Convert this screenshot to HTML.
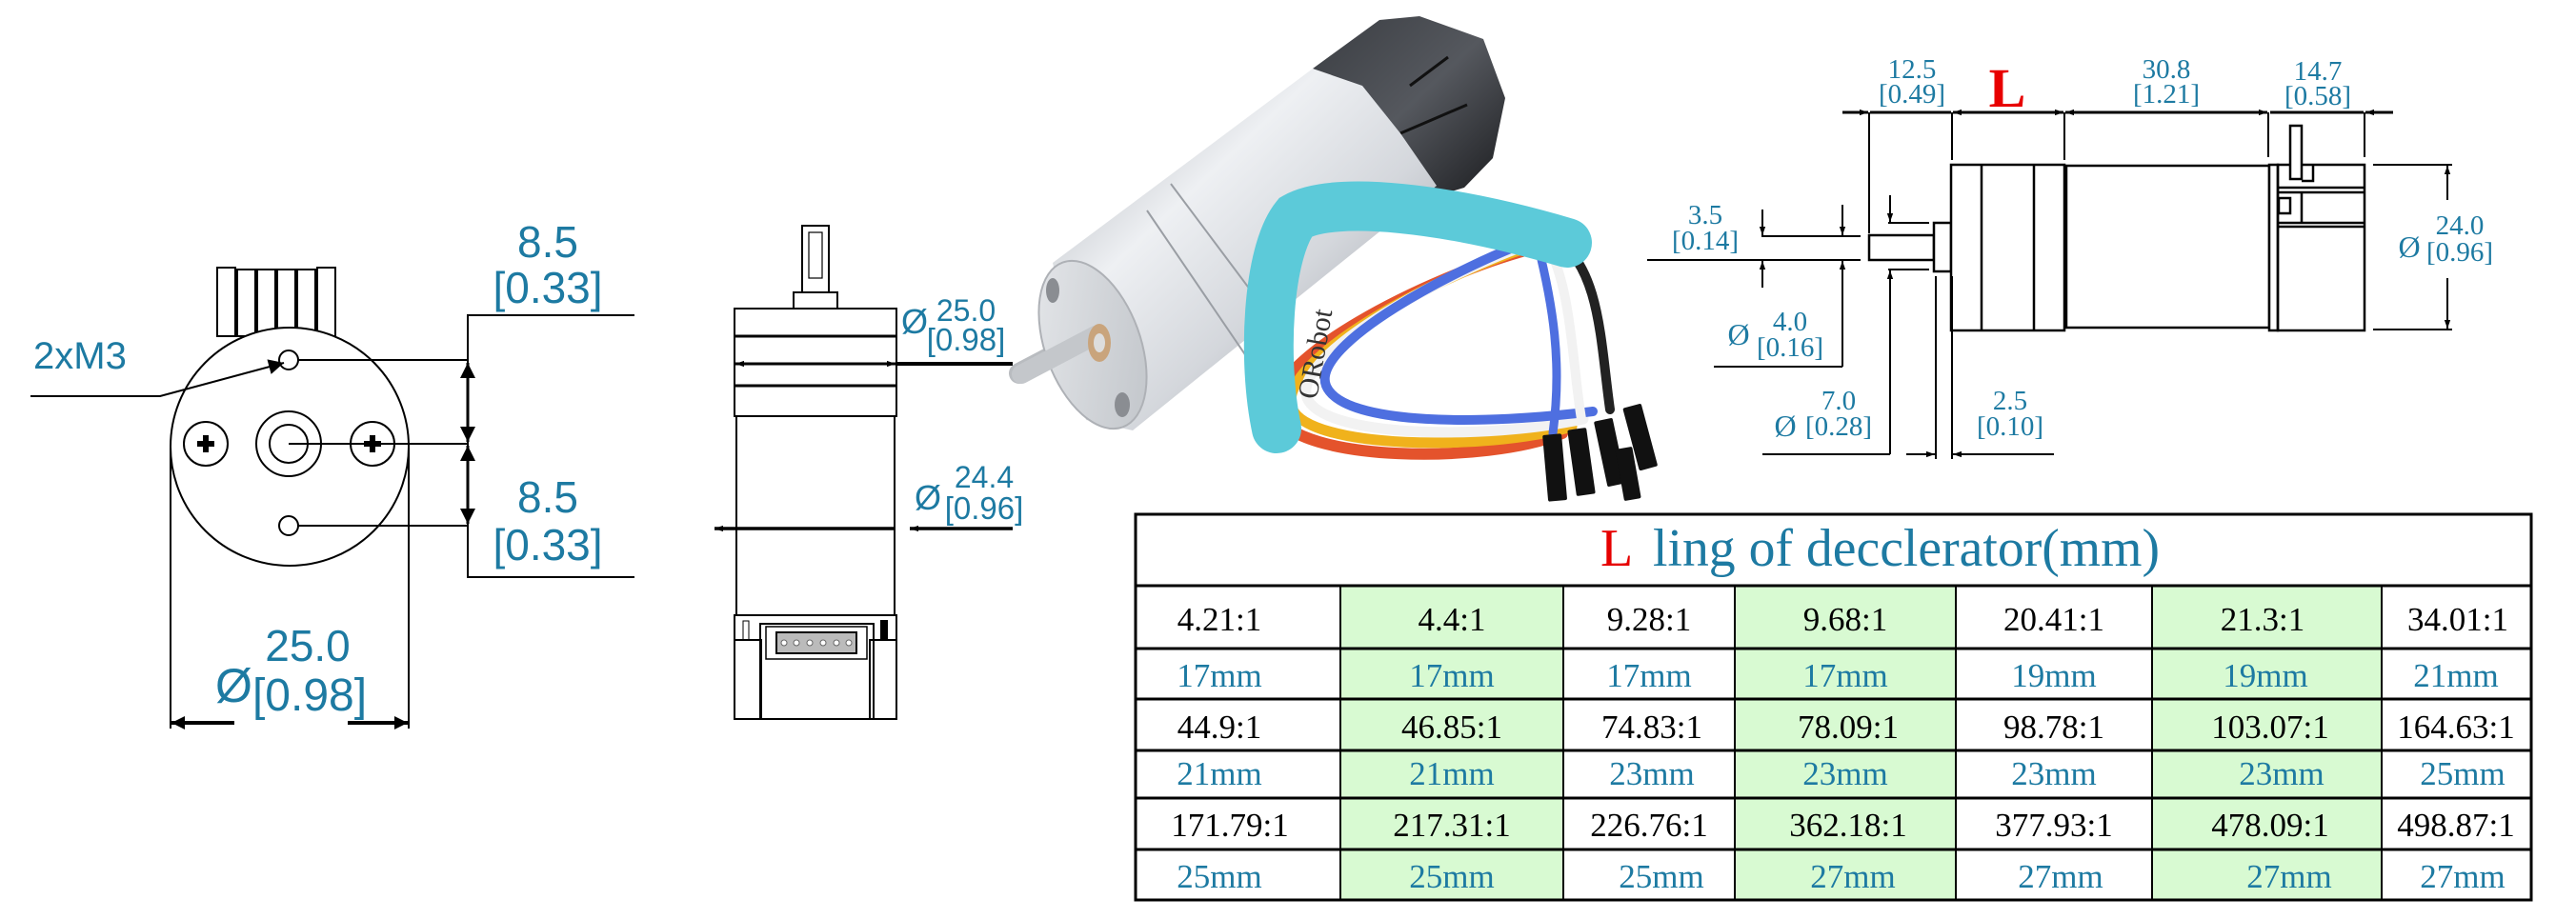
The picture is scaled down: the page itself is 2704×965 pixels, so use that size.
<!DOCTYPE html>
<html><head><meta charset="utf-8"><style>
html,body{margin:0;padding:0;background:#fff;}
svg{display:block;}
.t{fill:#1d7aa2;}
.s{font-family:"Liberation Sans",sans-serif;}
.r{font-family:"Liberation Serif",serif;}
</style></head><body>
<svg width="2704" height="965" viewBox="0 0 2704 965" xmlns="http://www.w3.org/2000/svg">
<defs>
<marker id="a" viewBox="0 0 10 10" refX="10" refY="5" markerWidth="9" markerHeight="9" orient="auto-start-reverse" markerUnits="userSpaceOnUse"><path d="M0,1.5 L10,5 L0,8.5 z" fill="#000"/></marker>
<marker id="b" viewBox="0 0 10 10" refX="10" refY="5" markerWidth="22" markerHeight="16" orient="auto-start-reverse" markerUnits="userSpaceOnUse"><path d="M0,0 L10,5 L0,10 z" fill="#000"/></marker>
<marker id="c" viewBox="0 0 10 10" refX="10" refY="5" markerWidth="28" markerHeight="14" orient="auto-start-reverse" markerUnits="userSpaceOnUse"><path d="M0,0 L10,5 L0,10 z" fill="#000"/></marker>
<linearGradient id="sil" x1="0" y1="0" x2="1" y2="1">
<stop offset="0" stop-color="#9ea3aa"/><stop offset="0.35" stop-color="#eef0f3"/><stop offset="0.6" stop-color="#d4d7dc"/><stop offset="0.85" stop-color="#a5a9b0"/><stop offset="1" stop-color="#c6c9ce"/></linearGradient>
<linearGradient id="face" x1="0" y1="0" x2="1" y2="1">
<stop offset="0" stop-color="#e6e8eb"/><stop offset="1" stop-color="#bfc3c8"/></linearGradient>
<linearGradient id="blk" x1="0" y1="0" x2="1" y2="1">
<stop offset="0" stop-color="#3a3d42"/><stop offset="0.5" stop-color="#55585e"/><stop offset="1" stop-color="#1b1c1f"/></linearGradient>
</defs>

<!-- LEFT END VIEW -->
<g stroke="#000" fill="none" stroke-width="2">
<g fill="#fff" stroke-width="2">
<rect x="228" y="281" width="19" height="72"/><rect x="249" y="283" width="19" height="70"/><rect x="270" y="283" width="19" height="70"/><rect x="291" y="283" width="19" height="70"/><rect x="312" y="283" width="19" height="70"/><rect x="333" y="281" width="19" height="72"/>
</g>
<circle cx="304" cy="469" r="125" fill="#fff"/>
<circle cx="303" cy="378" r="10"/>
<circle cx="303" cy="552" r="10"/>
<circle cx="216" cy="466" r="23"/>
<circle cx="391" cy="466" r="23"/>
<circle cx="303" cy="466" r="34"/>
<circle cx="303" cy="466" r="20"/>
<path d="M207,466 h18 M216,457 v18 M382,466 h18 M391,457 v18" stroke-width="6"/>
<path d="M313,378 H491 M303,466 H491 M313,552 H491"/>
<path d="M666,331 H491 V606 H666"/>
<path d="M491,381 V464" stroke-width="3" marker-start="url(#b)" marker-end="url(#b)"/>
<path d="M491,468 V550" stroke-width="3" marker-start="url(#b)" marker-end="url(#b)"/>
<path d="M32,416 H168 L298,381" marker-end="url(#b)"/>
<path d="M179,470 V765 M429,470 V765"/>
<path d="M246,759 H180" stroke-width="4" marker-end="url(#c)"/>
<path d="M365,759 H428" stroke-width="4" marker-end="url(#c)"/>
</g>
<text x="35" y="387" class="t s" font-size="40">2xM3</text>
<text x="575" y="270" class="t s" font-size="46" text-anchor="middle">8.5</text>
<text x="575" y="318" class="t s" font-size="46" text-anchor="middle">[0.33]</text>
<text x="575" y="538" class="t s" font-size="46" text-anchor="middle">8.5</text>
<text x="575" y="588" class="t s" font-size="46" text-anchor="middle">[0.33]</text>
<text x="226" y="737" class="t s" font-size="50">Ø</text>
<text x="323" y="694" class="t s" font-size="46" text-anchor="middle">25.0</text>
<text x="325" y="746" class="t s" font-size="48" text-anchor="middle">[0.98]</text>

<!-- MIDDLE SIDE VIEW -->
<g stroke="#000" fill="#fff" stroke-width="2">
<rect x="842" y="237" width="28" height="70"/>
<rect x="849" y="244" width="14" height="48" fill="none" stroke-width="1.2"/>
<rect x="833" y="307" width="46" height="17"/>
<rect x="771" y="324" width="170" height="113"/>
<path d="M771,353 H941 M771,405 H941" stroke-width="3"/>
<rect x="773" y="437" width="166" height="209"/>
<rect x="771" y="646" width="170" height="109"/>
<rect x="798" y="655" width="119" height="100" fill="none"/>
<rect x="771" y="672" width="28" height="83" fill="none"/>
<rect x="913" y="672" width="28" height="83" fill="none"/>
<rect x="804" y="658" width="106" height="34" fill="none" stroke-width="1.5"/>
<rect x="815" y="664" width="84" height="22" fill="#bbb"/>
<rect x="925" y="652" width="6" height="20" fill="#000"/>
<rect x="780" y="652" width="6" height="20" fill="none" stroke-width="1"/>
</g>
<g fill="#fff" stroke="#666" stroke-width="1">
<circle cx="823" cy="675" r="3"/><circle cx="836" cy="675" r="3"/><circle cx="850" cy="675" r="3"/><circle cx="864" cy="675" r="3"/><circle cx="878" cy="675" r="3"/><circle cx="891" cy="675" r="3"/>
</g>
<g stroke="#000" fill="none">
<path d="M1063,382 H941" stroke-width="4"/>
<path d="M940,382 H772" stroke-width="3" marker-start="url(#a)" marker-end="url(#a)"/>
<path d="M1063,555 H955" stroke-width="3.5" marker-end="url(#a)"/>
<path d="M939,555 H750" stroke-width="3.5" marker-end="url(#a)"/>
</g>
<text x="946" y="350" class="t s" font-size="36">Ø</text>
<text x="1014" y="337" class="t s" font-size="32" text-anchor="middle">25.0</text>
<text x="1014" y="368" class="t s" font-size="33" text-anchor="middle">[0.98]</text>
<text x="960" y="535" class="t s" font-size="36">Ø</text>
<text x="1033" y="512" class="t s" font-size="32" text-anchor="middle">24.4</text>
<text x="1033" y="545" class="t s" font-size="33" text-anchor="middle">[0.96]</text>

<!-- PHOTO -->
<!-- black encoder cap -->
<path d="M1378,72 L1448,21 L1490,17 L1557,41 L1580,103 L1567,166 L1537,197 L1503,207 L1470,140 Z" fill="url(#blk)"/>
<path d="M1470,140 L1540,110 M1480,90 L1520,60" stroke="#111" stroke-width="3"/>
<!-- silver body -->
<path d="M1105,276 L1378,72 L1430,90 L1470,140 L1508,195 L1189,452 L1140,441 Z" fill="url(#sil)"/>
<path d="M1204,221 L1319,390 M1229,193 L1348,352" stroke="#9a9ea4" stroke-width="2"/>
<!-- shaft -->
<path d="M1070,392 L1150,350" stroke="#b9bcc0" stroke-width="22" stroke-linecap="round"/>
<ellipse cx="1147" cy="362" rx="50" ry="92" transform="rotate(-20 1147 362)" fill="url(#face)" stroke="#aeb1b6" stroke-width="2"/>
<path d="M1072,393 L1150,352" stroke="#c4c7cb" stroke-width="20" stroke-linecap="round"/>
<ellipse cx="1154" cy="360" rx="12" ry="20" fill="#c9a47c"/>
<ellipse cx="1154" cy="360" rx="6" ry="10" fill="#ddd"/>
<ellipse cx="1105" cy="305" rx="7" ry="13" fill="#8a8d92"/>
<ellipse cx="1178" cy="425" rx="8" ry="13" fill="#8a8d92"/>
<!-- wires -->
<g fill="none" stroke-linecap="round">
<path d="M1605,262 C1500,290 1320,380 1340,435 C1360,485 1560,488 1640,455" stroke="#e4532c" stroke-width="12"/>
<path d="M1610,258 C1510,288 1340,378 1356,428 C1372,472 1560,474 1650,448" stroke="#f0b21c" stroke-width="11"/>
<path d="M1612,254 C1520,285 1355,372 1372,418 C1390,460 1560,462 1662,440" stroke="#f2f2f2" stroke-width="11"/>
<path d="M1614,250 C1530,280 1375,362 1392,405 C1410,448 1560,446 1672,432" stroke="#4e6fe0" stroke-width="10"/>
<path d="M1632,250 C1680,280 1680,360 1690,430" stroke="#222" stroke-width="10"/>
<path d="M1622,252 C1650,300 1650,380 1660,440" stroke="#f2f2f2" stroke-width="10"/>
<path d="M1614,256 C1630,320 1640,380 1630,455" stroke="#4e6fe0" stroke-width="9"/>
</g>
<!-- strap -->
<path d="M1340,450 C1325,380 1330,265 1360,228 C1400,205 1520,218 1645,255" fill="none" stroke="#5ccad9" stroke-width="52" stroke-linecap="round"/>
<text x="0" y="0" font-family="Liberation Serif,serif" font-size="30" fill="#333" transform="translate(1382,420) rotate(-80)">ORobot</text>
<g fill="#111">
<rect x="1622" y="456" width="20" height="70" rx="2" transform="rotate(-5 1632 490)"/>
<rect x="1650" y="450" width="20" height="70" rx="2" transform="rotate(-8 1660 485)"/>
<rect x="1680" y="440" width="20" height="70" rx="2" transform="rotate(-12 1690 475)"/>
<rect x="1712" y="425" width="20" height="68" rx="2" transform="rotate(-15 1722 460)"/>
<rect x="1700" y="470" width="18" height="55" rx="2" transform="rotate(-10 1709 497)"/>
</g>

<!-- RIGHT SIDE VIEW -->
<g stroke="#000" fill="#fff" stroke-width="2.5">
<rect x="1962" y="247" width="68" height="26"/>
<rect x="2030" y="234" width="18" height="51"/>
<rect x="2048" y="173" width="119" height="174"/>
<path d="M2080,173 V347 M2135,173 V347"/>
<rect x="2169" y="174" width="213" height="170"/>
<rect x="2382" y="173" width="9" height="174"/>
<rect x="2391" y="173" width="91" height="174" fill="none"/>
<path d="M2391,197 H2482 M2391,202 H2482 M2391,234 H2482 M2391,238 H2482 M2416,190 H2428 V173 M2416,202 V234"/>
<rect x="2404" y="132" width="12" height="56"/>
<rect x="2392" y="208" width="12" height="16" fill="none"/>
</g>
<g stroke="#000" fill="none" stroke-width="2">
<path d="M1962,118 V245 M2049,118 V168 M2167,118 V168 M2381,118 V165 M2482,118 V165"/>
<path d="M1934,118 H1961" stroke-width="3" marker-end="url(#a)"/>
<path d="M1963,118 H2048" stroke-width="3"/>
<path d="M2050,118 H2166" stroke-width="3" marker-start="url(#a)" marker-end="url(#a)"/>
<path d="M2168,118 H2380" stroke-width="3" marker-start="url(#a)" marker-end="url(#a)"/>
<path d="M2383,118 H2481" stroke-width="3"/>
<path d="M2512,118 H2483" stroke-width="3" marker-end="url(#a)"/>
<path d="M2491,173 H2574 M2491,346 H2574"/>
<path d="M2569,210 V174" marker-end="url(#a)"/>
<path d="M2569,292 V345" marker-end="url(#a)"/>
<path d="M1849,248 H1953 M1729,273 H1953 M1982,234 H2025 M1982,283 H2025"/>
<path d="M1850,220 V247" marker-end="url(#a)"/>
<path d="M1850,302 V274" marker-end="url(#a)"/>
<path d="M1934,215 V247" marker-end="url(#a)"/>
<path d="M1934,385 V274" marker-end="url(#a)"/>
<path d="M1934,385 H1799"/>
<path d="M1984,205 V233" marker-end="url(#a)"/>
<path d="M1984,477 V284" marker-end="url(#a)"/>
<path d="M1984,477 H1850"/>
<path d="M2032,290 V482 M2049,290 V482"/>
<path d="M2001,477 H2031" marker-end="url(#a)"/>
<path d="M2156,477 H2050" marker-end="url(#a)"/>
</g>
<g class="t r" font-size="29" text-anchor="middle">
<text x="2007" y="82">12.5</text><text x="2007" y="108">[0.49]</text>
<text x="2274" y="82">30.8</text><text x="2274" y="108">[1.21]</text>
<text x="2433" y="84">14.7</text><text x="2433" y="110">[0.58]</text>
<text x="1790" y="235">3.5</text><text x="1790" y="262">[0.14]</text>
<text x="1879" y="347">4.0</text><text x="1879" y="374">[0.16]</text>
<text x="1930" y="430">7.0</text><text x="1930" y="457">[0.28]</text>
<text x="2110" y="430">2.5</text><text x="2110" y="457">[0.10]</text>
<text x="2582" y="246">24.0</text><text x="2582" y="274">[0.96]</text>
<text x="1825" y="362" font-size="32">Ø</text>
<text x="1874" y="458" font-size="32">Ø</text>
<text x="2529" y="270" font-size="32">Ø</text>
</g>
<text x="2107" y="112" font-family="Liberation Serif,serif" font-size="58" font-weight="bold" fill="#e80000" text-anchor="middle">L</text>

<!-- TABLE -->
<g>
<rect x="1407" y="615" width="234" height="330" fill="#d8fad2"/>
<rect x="1821" y="615" width="232" height="330" fill="#d8fad2"/>
<rect x="2259" y="615" width="241" height="330" fill="#d8fad2"/>
<g stroke="#000" stroke-width="3" fill="none">
<rect x="1192" y="540" width="1465" height="405"/>
<path d="M1192,615 H2657 M1192,681 H2657 M1192,734 H2657 M1192,788 H2657 M1192,838 H2657 M1192,892 H2657"/>
<path d="M1407,615 V945 M1641,615 V945 M1821,615 V945 M2053,615 V945 M2259,615 V945 M2500,615 V945" stroke-width="2"/>
</g>
<text x="1680" y="594" font-family="Liberation Serif,serif" font-size="56" fill="#e60000">L</text>
<text x="1735" y="594" font-family="Liberation Serif,serif" font-size="56" class="t" textLength="532" lengthAdjust="spacingAndGlyphs">ling of decclerator(mm)</text>
<g font-family="Liberation Serif,serif" font-size="35" text-anchor="middle" fill="#000">
<text x="1280" y="662">4.21:1</text><text x="1524" y="662">4.4:1</text><text x="1731" y="662">9.28:1</text><text x="1937" y="662">9.68:1</text><text x="2156" y="662">20.41:1</text><text x="2375" y="662">21.3:1</text><text x="2580" y="662">34.01:1</text>
<text x="1280" y="775">44.9:1</text><text x="1524" y="775">46.85:1</text><text x="1734" y="775">74.83:1</text><text x="1940" y="775">78.09:1</text><text x="2156" y="775">98.78:1</text><text x="2383" y="775">103.07:1</text><text x="2578" y="775">164.63:1</text>
<text x="1291" y="878">171.79:1</text><text x="1524" y="878">217.31:1</text><text x="1731" y="878">226.76:1</text><text x="1940" y="878">362.18:1</text><text x="2156" y="878">377.93:1</text><text x="2383" y="878">478.09:1</text><text x="2578" y="878">498.87:1</text>
</g>
<g font-family="Liberation Serif,serif" font-size="35" text-anchor="middle" class="t">
<text x="1280" y="721">17mm</text><text x="1524" y="721">17mm</text><text x="1731" y="721">17mm</text><text x="1937" y="721">17mm</text><text x="2156" y="721">19mm</text><text x="2378" y="721">19mm</text><text x="2578" y="721">21mm</text>
<text x="1280" y="824">21mm</text><text x="1524" y="824">21mm</text><text x="1734" y="824">23mm</text><text x="1937" y="824">23mm</text><text x="2156" y="824">23mm</text><text x="2395" y="824">23mm</text><text x="2585" y="824">25mm</text>
<text x="1280" y="932">25mm</text><text x="1524" y="932">25mm</text><text x="1744" y="932">25mm</text><text x="1945" y="932">27mm</text><text x="2163" y="932">27mm</text><text x="2403" y="932">27mm</text><text x="2585" y="932">27mm</text>
</g>
</g>
</svg>
</body></html>
